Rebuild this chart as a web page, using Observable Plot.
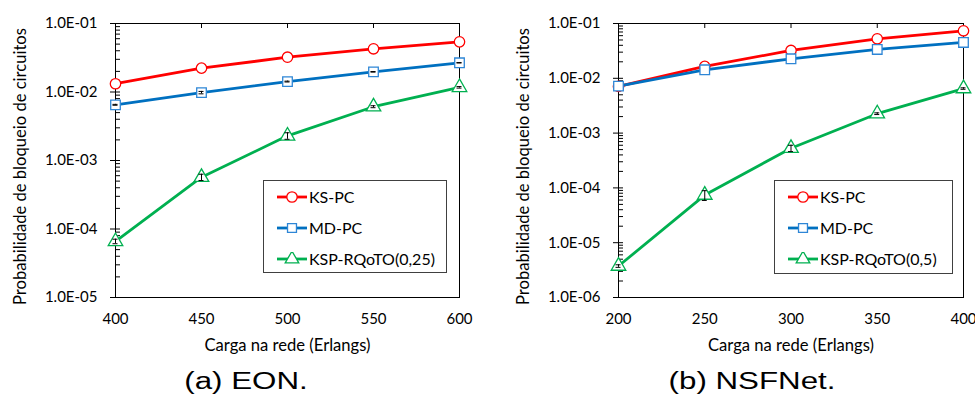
<!DOCTYPE html>
<html><head><meta charset="utf-8">
<script src="https://cdn.jsdelivr.net/npm/d3@7"></script>
<script src="https://cdn.jsdelivr.net/npm/@observablehq/plot@0.6"></script>
<style>
html,body{margin:0;padding:0;background:#fff;}
body{width:975px;height:398px;overflow:hidden;font-family:Lato,sans-serif;}
#wrap{display:flex;}
.panel{position:relative;height:398px;}
.panel svg{display:block;}
.legend{position:absolute;border:1px solid #404040;background:#fff;box-sizing:border-box;}
.row{height:31px;display:flex;align-items:center;font-size:16px;color:#000;}
.row svg{margin-left:13px;margin-right:2px;}
.caption{position:absolute;top:364px;height:34px;line-height:34px;font-family:"Liberation Sans",Arial,sans-serif;font-size:23px;white-space:nowrap;transform:scaleX(1.36);transform-origin:center;text-align:center;}
</style></head>
<body><div id="wrap"></div>
<script>
// ---- data ----
const seriesNames = ["KS-PC", "MD-PC"];
const rqNameEON = "KSP-RQoTO(0,25)";
const rqNameNSF = "KSP-RQoTO(0,5)";

const loadsEON = [400, 450, 500, 550, 600];
const ksEON = [0.0132, 0.0223, 0.0322, 0.0427, 0.054];
const mdEON = [0.0065, 0.0098, 0.0142, 0.0197, 0.0267];
const mdErrEON = [0.0001, 0.0004, 0.0002, 0.0002, 0.0002];
const rqEON = [6.6e-5, 5.7e-4, 2.29e-3, 6.1e-3, 0.0117];
const rqErrEON = [0.5e-5, 0.6e-4, 2.5e-4, 2e-4, 3e-4];

const loadsNSF = [200, 250, 300, 350, 400];
const ksNSF = [0.0071, 0.0165, 0.0322, 0.0526, 0.0736];
const mdNSF = [0.0072, 0.0143, 0.0227, 0.0336, 0.0451];
const rqNSF = [3.75e-6, 7.4e-5, 5.3e-4, 2.26e-3, 6.5e-3];
const rqErrNSF = [0.2e-6, 1.5e-5, 0.7e-4, 0.8e-4, 2e-4];

const yTicksEON = [1e-5, 1e-4, 1e-3, 1e-2, 1e-1];
const yLabelsEON = ["1.0E-05", "1.0E-04", "1.0E-03", "1.0E-02", "1.0E-01"];
const yTicksNSF = [1e-6, 1e-5, 1e-4, 1e-3, 1e-2, 1e-1];
const yLabelsNSF = ["1.0E-06", "1.0E-05", "1.0E-04", "1.0E-03", "1.0E-02", "1.0E-01"];

const xLabel = "Carga na rede (Erlangs)";
const yLabel = "Probabilidade de bloqueio de circuitos";
const captions = ["(a) EON.", "(b) NSFNet."];

// ---- styles ----
const RED = "#FF0000", BLUE = "#0070C0", BLUE_M = "#2E86D6", GREEN = "#00B050";

function rows(xs, ys, errs) {
  return xs.map((x, i) => ({x, y: ys[i], e: errs ? errs[i] : 0}));
}

function panel(cfg) {
  const H = 362, mt = 23, mb = 65;
  const plotW = cfg.width - cfg.ml - cfg.mr, plotH = H - mt - mb;
  const minors = [];
  for (let i = 0; i < cfg.yTicks.length - 1; i++)
    for (let k = 2; k <= 9; k++) minors.push(cfg.yTicks[i] * k);
  const ks = rows(cfg.xs, cfg.ks), md = rows(cfg.xs, cfg.md, cfg.mdErr), rq = rows(cfg.xs, cfg.rq, cfg.rqErr);
  const err = [...(cfg.mdErr ? md : []), ...rq];
  const line = (d, c) => Plot.line(d, {x: "x", y: "y", stroke: c, strokeWidth: 2.8});
  const dot = (d, c, s, r) => Plot.dot(d, {x: "x", y: "y", symbol: s, r, stroke: c, fill: "white", strokeWidth: 1.3});
  return Plot.plot({
    width: cfg.width, height: H, marginLeft: cfg.ml, marginRight: cfg.mr, marginTop: mt, marginBottom: mb,
    style: {fontFamily: "Lato, sans-serif", color: "#000", background: "white", overflow: "hidden"},
    x: {domain: [cfg.xs[0], cfg.xs[cfg.xs.length - 1]]},
    y: {type: "log", domain: [cfg.yTicks[0], cfg.yTicks[cfg.yTicks.length - 1]]},
    marks: [
      Plot.axisY(cfg.yTicks, {tickSize: 0, tickPadding: 18, fontSize: 15, tickFormat: d => cfg.yLabels[cfg.yTicks.indexOf(d)], label: null}),
      Plot.axisX(cfg.xs, {tickSize: 0, tickPadding: 16, fontSize: 15, tickFormat: d => String(d), label: null}),
      Plot.tickY(minors, {y: d => d, insetRight: plotW - 5, stroke: "#000"}),
      Plot.tickY(cfg.yTicks, {y: d => d, dx: -5, insetRight: plotW - 10, stroke: "#000"}),
      Plot.tickX(cfg.xs, {x: d => d, insetBottom: plotH - 5, stroke: "#000"}),
      Plot.frame({stroke: "#000"}),
      line(ks, RED), line(md, BLUE), line(rq, GREEN),
      dot(ks, RED, "circle", 5.2), dot(md, BLUE_M, "square", 5.4), dot(rq, GREEN, "triangle", 5.4),
      Plot.ruleX(err, {x: "x", y1: d => d.y - d.e, y2: d => d.y + d.e, stroke: "#000", strokeWidth: 1}),
      Plot.ruleY(err, {y: d => d.y - d.e, x1: "x", x2: "x", insetLeft: -2.5, insetRight: -2.5, stroke: "#000"}),
      Plot.ruleY(err, {y: d => d.y + d.e, x1: "x", x2: "x", insetLeft: -2.5, insetRight: -2.5, stroke: "#000"}),
      Plot.text([xLabel], {frameAnchor: "bottom", dy: 53, fontSize: 16.6}),
      Plot.text([yLabel], {frameAnchor: "left", textAnchor: "middle", lineAnchor: "middle", dx: -95, dy: 6, rotate: -90, fontSize: 16.6})
    ]
  });
}

function markerSvg(color, mcolor, sym) {
  const ns = "http://www.w3.org/2000/svg";
  const s = document.createElementNS(ns, "svg");
  s.setAttribute("width", 30); s.setAttribute("height", 14);
  const l = document.createElementNS(ns, "line");
  l.setAttribute("x1", 0); l.setAttribute("x2", 30); l.setAttribute("y1", 7); l.setAttribute("y2", 7);
  l.setAttribute("stroke", color); l.setAttribute("stroke-width", 2.8);
  s.appendChild(l);
  const p = document.createElementNS(ns, "path");
  p.setAttribute("d", d3.symbol(sym, sym === d3.symbolCircle ? 85 : 80)());
  p.setAttribute("transform", "translate(15,7)");
  p.setAttribute("fill", "white"); p.setAttribute("stroke", mcolor); p.setAttribute("stroke-width", 1.3);
  s.appendChild(p);
  return s;
}

function legend(box, rqName) {
  const div = document.createElement("div");
  div.className = "legend";
  Object.assign(div.style, {left: box[0] + "px", top: box[1] + "px", width: box[2] + "px", height: box[3] + "px"});
  const items = [[seriesNames[0], RED, RED, d3.symbolCircle], [seriesNames[1], BLUE, BLUE_M, d3.symbolSquare], [rqName, GREEN, GREEN, d3.symbolTriangle]];
  for (const [name, c, mc, sym] of items) {
    const r = document.createElement("div");
    r.className = "row";
    r.appendChild(markerSvg(c, mc, sym));
    const t = document.createElement("span"); t.textContent = name;
    r.appendChild(t);
    div.appendChild(r);
  }
  return div;
}

const wrap = document.getElementById("wrap");
const cfgs = [
  {width: 487, ml: 115, mr: 28, xs: loadsEON, ks: ksEON, md: mdEON, mdErr: mdErrEON, rq: rqEON, rqErr: rqErrEON,
   yTicks: yTicksEON, yLabels: yLabelsEON, legendBox: [263, 180, 184, 93], rqName: rqNameEON, cap: captions[0], capCenter: 246},
  {width: 488, ml: 131, mr: 12, xs: loadsNSF, ks: ksNSF, md: mdNSF, mdErr: null, rq: rqNSF, rqErr: rqErrNSF,
   yTicks: yTicksNSF, yLabels: yLabelsNSF, legendBox: [287, 180, 179, 94], rqName: rqNameNSF, cap: captions[1], capCenter: 265}
];
for (const cfg of cfgs) {
  const p = document.createElement("div");
  p.className = "panel"; p.style.width = cfg.width + "px";
  p.appendChild(panel(cfg));
  p.appendChild(legend(cfg.legendBox, cfg.rqName));
  const c = document.createElement("div");
  c.className = "caption"; c.textContent = cfg.cap;
  c.style.width = "200px"; c.style.left = (cfg.capCenter - 100) + "px";
  p.appendChild(c);
  wrap.appendChild(p);
}
</script></body></html>
